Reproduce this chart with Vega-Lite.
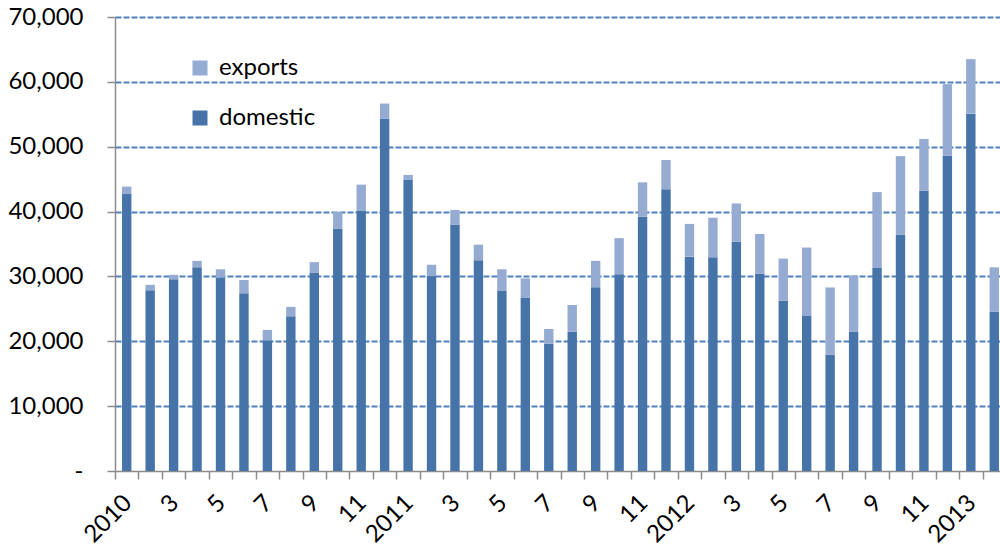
{
  "$schema": "https://vega.github.io/schema/vega-lite/v6.json",
  "width": 891,
  "height": 454,
  "autosize": {"type": "none"},
  "padding": {"left": 115, "top": 17, "right": 0, "bottom": 83},
  "background": "white",
  "config": {"view": {"stroke": null}, "font": "Lato"},
  "datasets": {
    "wide": [
      {"month": "2010-01", "domestic": 42700, "exports": 1150},
      {"month": "2010-02", "domestic": 27850, "exports": 850},
      {"month": "2010-03", "domestic": 29550, "exports": 700},
      {"month": "2010-04", "domestic": 31400, "exports": 1000},
      {"month": "2010-05", "domestic": 29850, "exports": 1250},
      {"month": "2010-06", "domestic": 27400, "exports": 2050},
      {"month": "2010-07", "domestic": 20150, "exports": 1600},
      {"month": "2010-08", "domestic": 23850, "exports": 1450},
      {"month": "2010-09", "domestic": 30550, "exports": 1650},
      {"month": "2010-10", "domestic": 37400, "exports": 2550},
      {"month": "2010-11", "domestic": 40150, "exports": 4000},
      {"month": "2010-12", "domestic": 54300, "exports": 2350},
      {"month": "2011-01", "domestic": 44950, "exports": 700},
      {"month": "2011-02", "domestic": 30050, "exports": 1750},
      {"month": "2011-03", "domestic": 37950, "exports": 2300},
      {"month": "2011-04", "domestic": 32500, "exports": 2400},
      {"month": "2011-05", "domestic": 27750, "exports": 3350},
      {"month": "2011-06", "domestic": 26750, "exports": 2950},
      {"month": "2011-07", "domestic": 19600, "exports": 2300},
      {"month": "2011-08", "domestic": 21450, "exports": 4150},
      {"month": "2011-09", "domestic": 28350, "exports": 4050},
      {"month": "2011-10", "domestic": 30350, "exports": 5550},
      {"month": "2011-11", "domestic": 39200, "exports": 5300},
      {"month": "2011-12", "domestic": 43450, "exports": 4500},
      {"month": "2012-01", "domestic": 33050, "exports": 5050},
      {"month": "2012-02", "domestic": 32950, "exports": 6100},
      {"month": "2012-03", "domestic": 35350, "exports": 5900},
      {"month": "2012-04", "domestic": 30400, "exports": 6150},
      {"month": "2012-05", "domestic": 26250, "exports": 6500},
      {"month": "2012-06", "domestic": 23900, "exports": 10550},
      {"month": "2012-07", "domestic": 17900, "exports": 10400},
      {"month": "2012-08", "domestic": 21450, "exports": 8700},
      {"month": "2012-09", "domestic": 31300, "exports": 11700},
      {"month": "2012-10", "domestic": 36400, "exports": 12150},
      {"month": "2012-11", "domestic": 43200, "exports": 8000},
      {"month": "2012-12", "domestic": 48600, "exports": 11050},
      {"month": "2013-01", "domestic": 55100, "exports": 8400},
      {"month": "2013-02", "domestic": 24550, "exports": 6850}
    ]
  },
  "data": {"name": "wide"},
  "transform": [
    {"fold": ["domestic", "exports"], "as": ["series", "amount"]}
  ],
  "mark": {"type": "bar"},
  "encoding": {
    "x": {
      "field": "month",
      "type": "ordinal",
      "scale": {"paddingInner": 0.6, "paddingOuter": 0.3},
      "axis": {
        "title": null,
        "labelAngle": -45,
        "labelAlign": "right",
        "labelBaseline": "middle",
        "labelFontSize": 24,
        "labelPadding": 20,
        "labelColor": "black",
        "labelOverlap": false,
        "labelBound": false,
        "labelExpr": "slice(datum.value,5)=='01' ? slice(datum.value,0,4) : (toNumber(slice(datum.value,5)) % 2 == 1 ? '' + toNumber(slice(datum.value,5)) : '')",
        "bandPosition": 0,
        "tickOffset": -7.03,
        "labelOffset": 8,
        "tickSize": 8,
        "tickWidth": 1.5,
        "tickColor": "#8C8C8C",
        "domainColor": "#8C8C8C",
        "domainWidth": 1.5,
        "grid": false
      }
    },
    "y": {
      "field": "amount",
      "type": "quantitative",
      "stack": "zero",
      "scale": {"domain": [0, 70000], "nice": false},
      "axis": {
        "title": null,
        "values": [0, 10000, 20000, 30000, 40000, 50000, 60000, 70000],
        "format": ",.0f",
        "labelExpr": "datum.value == 0 ? '-\u00a0\u00a0\u00a0' : datum.label",
        "labelFontSize": 24,
        "labelPadding": 24,
        "labelColor": "black",
        "tickSize": 8,
        "tickWidth": 1.5,
        "tickColor": "#8C8C8C",
        "domainColor": "#8C8C8C",
        "domainWidth": 1.5,
        "grid": true,
        "gridColor": {"condition": {"test": "datum.value === 0", "value": "transparent"}, "value": "#4F81BD"},
        "gridDash": [6, 2],
        "gridWidth": 2
      }
    },
    "color": {
      "field": "series",
      "type": "nominal",
      "scale": {"domain": ["exports", "domestic"], "range": ["#95ABD2", "#4674A8"]},
      "legend": {
        "title": null,
        "orient": "none",
        "legendX": 73,
        "legendY": 39,
        "symbolType": "square",
        "symbolSize": 225,
        "symbolStrokeWidth": 0,
        "symbolOpacity": 1,
        "labelFontSize": 24,
        "labelOffset": 7,
        "labelColor": "black",
        "rowPadding": 26,
        "padding": 0
      }
    },
    "order": {"field": "series", "sort": "ascending"}
  }
}
